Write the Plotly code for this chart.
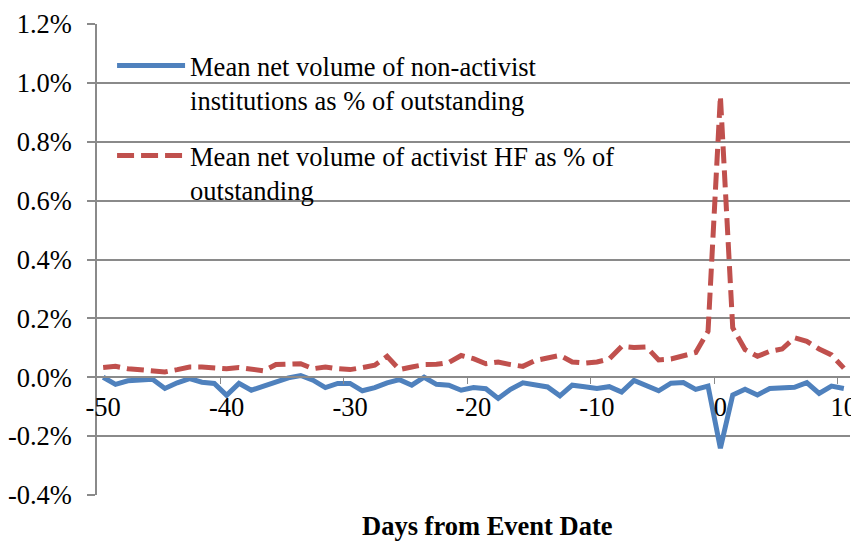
import plotly.graph_objects as go

# ---------------- data ----------------
days = list(range(-50, 11))

# Mean net volume of non-activist institutions (% of outstanding)
non_activist = [
    0.000, -0.024, -0.012, -0.009, -0.007, -0.038, -0.019, -0.005, -0.017, -0.021,
    -0.061, -0.021, -0.044, -0.030, -0.016, -0.002, 0.006, -0.010, -0.035, -0.021,
    -0.021, -0.046, -0.035, -0.019, -0.008, -0.027, 0.000, -0.024, -0.027, -0.044,
    -0.035, -0.039, -0.072, -0.041, -0.019, -0.027, -0.033, -0.063, -0.027, -0.032,
    -0.038, -0.032, -0.050, -0.011, -0.030, -0.046, -0.020, -0.018, -0.041, -0.030,
    -0.241, -0.060, -0.041, -0.060, -0.038, -0.035, -0.034, -0.018, -0.055, -0.030,
    -0.038,
]

# Mean net volume of activist HF (% of outstanding)
activist_hf = [
    0.033, 0.037, 0.029, 0.024, 0.022, 0.018, 0.026, 0.035, 0.035, 0.031,
    0.029, 0.033, 0.026, 0.022, 0.043, 0.046, 0.046, 0.029, 0.035, 0.029,
    0.026, 0.033, 0.041, 0.071, 0.026, 0.035, 0.043, 0.044, 0.050, 0.074,
    0.063, 0.046, 0.052, 0.043, 0.037, 0.057, 0.067, 0.074, 0.052, 0.048,
    0.052, 0.062, 0.105, 0.101, 0.103, 0.059, 0.062, 0.071, 0.084, 0.156,
    0.955, 0.168, 0.094, 0.071, 0.088, 0.096, 0.134, 0.122, 0.096, 0.076,
    0.031,
]

y_tick_vals = [-0.4, -0.2, 0.0, 0.2, 0.4, 0.6, 0.8, 1.0, 1.2]
y_tick_labels = ["-0.4%", "-0.2%", "0.0%", "0.2%", "0.4%", "0.6%", "0.8%", "1.0%", "1.2%"]
x_tick_vals = [-50, -40, -30, -20, -10, 0, 10]
x_tick_labels = ["-50", "-40", "-30", "-20", "-10", "0", "10"]

series_names = [
    "Mean net volume of non-activist<br>institutions as % of outstanding",
    "Mean net volume of activist HF as % of<br>outstanding",
]
x_title = "Days from Event Date"

# ---------------- figure ----------------
FONT = "Liberation Serif, Times New Roman, serif"
FS = 26.5
GRID = "#8a8a8a"

fig = go.Figure()
fig.add_trace(go.Scatter(
    x=days, y=non_activist, mode="lines", name=series_names[0],
    line=dict(color="#4F81BD", width=5), legendgroup="a",
))
fig.add_trace(go.Scatter(
    x=days, y=activist_hf, mode="lines", name=series_names[1],
    line=dict(color="#C0504D", width=5, dash="17px,7px"), legendgroup="b",
))

# page body has an 8px default margin, so the figure is sized to fit the window
fig.update_layout(
    width=851, height=534,
    margin=dict(l=89, r=9, t=16, b=47, autoexpand=False),
    paper_bgcolor="white", plot_bgcolor="white",
    font=dict(family=FONT, size=FS, color="black"),
    showlegend=True,
    legend=dict(
        x=0.02, y=0.962, xanchor="left", yanchor="top",
        bgcolor="rgba(0,0,0,0)", font=dict(family=FONT, size=FS, color="black"),
        traceorder="grouped", tracegroupgap=18, itemwidth=68, valign="top",
    ),
    xaxis=dict(
        range=[-50.5, 10.5], tickmode="array", tickvals=x_tick_vals, ticktext=x_tick_labels,
        showgrid=False, zeroline=False, showline=True, linecolor=GRID, linewidth=1.5,
        anchor="free", position=0.25, ticks="", ticklabelstandoff=6,
        minor=dict(tickmode="array", tickvals=[v - 0.5 for v in x_tick_vals[1:]],
                   ticks="outside", ticklen=6, tickcolor=GRID, showgrid=False),
    ),
    yaxis=dict(
        range=[-0.4, 1.2], tickmode="array", tickvals=y_tick_vals, ticktext=y_tick_labels,
        showgrid=True, gridcolor=GRID, gridwidth=1.5, zeroline=False,
        showline=True, linecolor=GRID, linewidth=1.5,
        ticks="outside", ticklen=8, tickcolor=GRID, tickwidth=1.5, ticklabelstandoff=10,
    ),
    annotations=[dict(
        text="<b>" + x_title + "</b>", xref="paper", yref="paper", x=0.519, y=-0.066,
        xanchor="center", yanchor="middle", showarrow=False,
        font=dict(family=FONT, size=FS, color="black"),
    )],
)

fig.write_html("out.html")
